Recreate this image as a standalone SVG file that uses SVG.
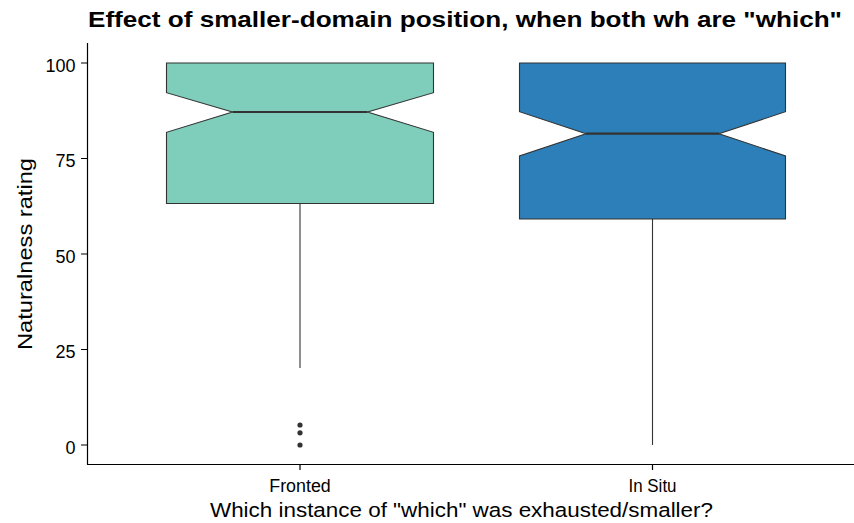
<svg xmlns="http://www.w3.org/2000/svg" width="854" height="523" viewBox="0 0 854 523">
<style>
text{font-family:"Liberation Sans",Arial,sans-serif;fill:#000}
.tick{font-size:18px;fill:#333}
.axt{font-size:20.5px}
.ttl{font-size:22px;font-weight:bold}
.box{stroke:#333;stroke-width:1.1}
.med{stroke:#333;stroke-width:2.2}
.wh{stroke:#333;stroke-width:1.1}
.ax{stroke:#000;stroke-width:1.2;fill:none}
</style>
<rect width="854" height="523" fill="#fff"/>
<g id="axes">
<path class="ax" d="M87.5 43 V464.5 H854"/>
<path class="ax" d="M81 63 H87 M81 158.5 H87 M81 254 H87 M81 349.5 H87 M81 445 H87 M300 464.5 V470 M652.5 464.5 V470"/>
<g class="tick" text-anchor="end">
<text x="75.5" y="71.5">100</text>
<text x="75.5" y="167">75</text>
<text x="75.5" y="262.5">50</text>
<text x="75.5" y="358">25</text>
<text x="75.5" y="453.5">0</text>
</g>
<g class="tick" text-anchor="middle">
<text x="300" y="491.5" textLength="61.5" lengthAdjust="spacingAndGlyphs">Fronted</text>
<text x="652.5" y="491.5" textLength="48" lengthAdjust="spacingAndGlyphs">In Situ</text>
</g>
<text class="axt" x="461.5" y="517" text-anchor="middle" textLength="503" lengthAdjust="spacingAndGlyphs">Which instance of "which" was exhausted/smaller?</text>
<text class="axt" transform="translate(31.5,254) rotate(-90)" text-anchor="middle" textLength="192" lengthAdjust="spacingAndGlyphs">Naturalness rating</text>
<text class="ttl" x="88" y="27" textLength="754" lengthAdjust="spacingAndGlyphs">Effect of smaller-domain position, when both wh are "which"</text>
</g>
<g id="box-fronted">
<line class="wh" x1="300" y1="203.5" x2="300" y2="368"/>
<path class="box" fill="#7FCDBB" d="M166.5 63 H433.5 V92.7 L367.5 112 L433.5 132.3 V203.5 H166.5 V132.3 L232.5 112 L166.5 92.7 Z"/>
<line class="med" x1="232.5" y1="112" x2="367.5" y2="112"/>
<g fill="#333">
<circle cx="300" cy="425" r="2.6"/>
<circle cx="300" cy="432.8" r="2.6"/>
<circle cx="300" cy="445" r="2.6"/>
</g>
</g>
<g id="box-insitu">
<line class="wh" x1="652.5" y1="219" x2="652.5" y2="445"/>
<path class="box" fill="#2C7FB8" d="M519.5 63 H785.5 V111.7 L719 133.7 L785.5 156 V219 H519.5 V156 L586 133.7 L519.5 111.7 Z"/>
<line class="med" x1="586" y1="133.7" x2="719" y2="133.7"/>
</g>
</svg>
